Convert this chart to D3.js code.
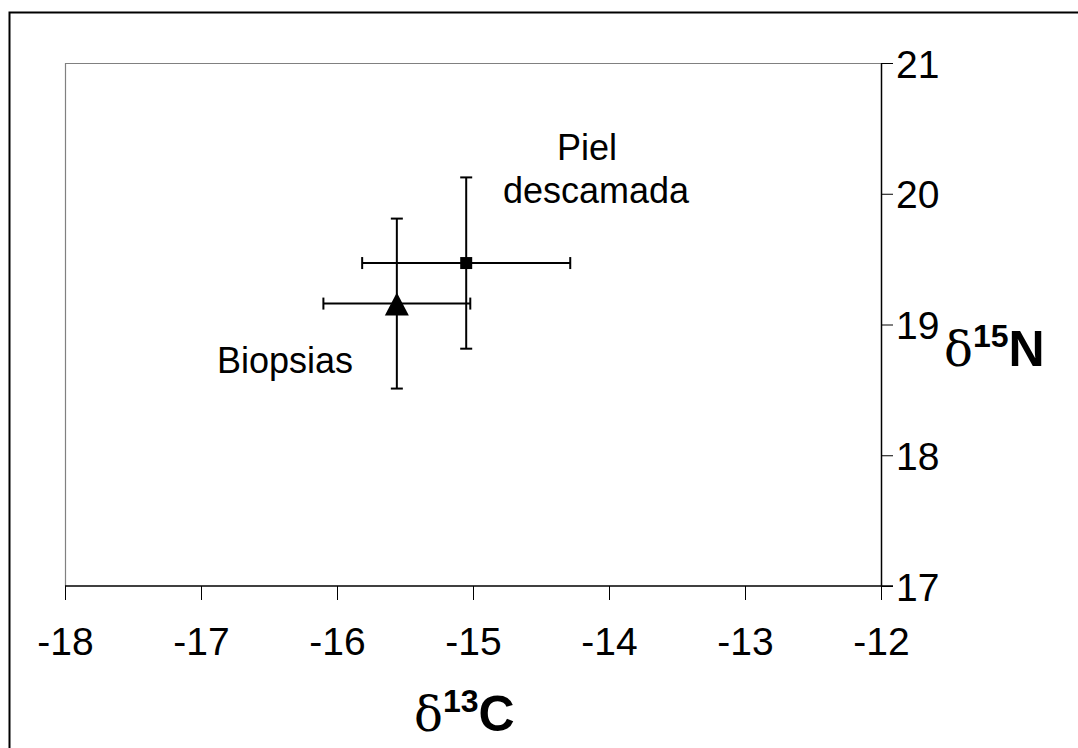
<!DOCTYPE html>
<html>
<head>
<meta charset="utf-8">
<script src="https://cdnjs.cloudflare.com/ajax/libs/d3/7.8.5/d3.min.js"></script>
<style>
  body { margin: 0; background: #fff; }
  text { font-family: "Liberation Sans", Arial, sans-serif; }
</style>
</head>
<body>
<div id="chart-area"></div>
<script>
// data
var samples = ["Piel descamada", "Biopsias"];
var meanC = [-15.05, -15.56];
var meanN = [19.47, 19.16];
var sdC = [0.765, 0.54];
var sdN = [0.655, 0.65];
var symbols = ["square", "triangle"];

var xTicks = [-18, -17, -16, -15, -14, -13, -12];
var yTicks = [17, 18, 19, 20, 21];

var width = 1078, height = 748;
var plotLeft = 65, plotRight = 881, plotTop = 63, plotBottom = 586;

var svg = d3.select("#chart-area")
    .append("svg")
    .attr("width", width)
    .attr("height", height);

// outer frame (right and bottom edges fall outside the picture)
svg.append("rect")
    .attr("x", 9.5).attr("y", 12.5)
    .attr("width", 1200).attr("height", 900)
    .attr("fill", "none")
    .attr("stroke", "#000")
    .attr("stroke-width", 2);

var x = d3.scaleLinear().domain([-18, -12]).range([plotLeft, plotRight]);
var y = d3.scaleLinear().domain([17, 21]).range([plotBottom, plotTop]);

// plot area border (gray, left & top)
svg.append("path")
    .attr("d", "M" + (plotLeft + 0.5) + "," + plotBottom + "V" + (plotTop + 0.5) + "H" + plotRight)
    .attr("fill", "none")
    .attr("stroke", "#808080")
    .attr("stroke-width", 1.2);

var fmt = function(d) { return String(d); };

var xAxis = svg.append("g")
    .attr("transform", "translate(0," + plotBottom + ")")
    .call(d3.axisBottom(x).tickValues(xTicks).tickSize(14).tickPadding(27)
        .tickSizeOuter(0).tickFormat(fmt));
xAxis.select(".domain").attr("d", "M" + plotLeft + ",0H" + (plotRight + 12)).attr("stroke-width", 1.5);
xAxis.selectAll(".tick line").attr("stroke-width", 1);
xAxis.selectAll("text")
    .attr("font-size", 39)
    .attr("fill", "#000")
    .attr("font-family", "Liberation Sans, Arial, sans-serif")
    .attr("dy", "0.71em");

var yAxis = svg.append("g")
    .attr("transform", "translate(" + plotRight + ",0)")
    .call(d3.axisRight(y).tickValues(yTicks).tickSize(12).tickPadding(3)
        .tickSizeOuter(0).tickFormat(fmt));
yAxis.select(".domain").attr("stroke-width", 1.5);
yAxis.selectAll(".tick line").attr("stroke-width", 1);
yAxis.selectAll("text")
    .attr("font-size", 39)
    .attr("fill", "#000")
    .attr("font-family", "Liberation Sans, Arial, sans-serif")
    .attr("dy", "0.36em");

// axis titles
var xt = svg.append("text")
    .attr("x", 414).attr("y", 731)
    .attr("font-size", 50);
xt.append("tspan").text("δ").attr("font-family", "DejaVu Serif, serif").attr("font-size", 48);
xt.append("tspan").text("13").attr("font-weight", "bold").attr("font-size", 32).attr("dy", -19);
xt.append("tspan").text("C").attr("font-weight", "bold").attr("dy", 19);

var yt = svg.append("text")
    .attr("x", 944).attr("y", 366)
    .attr("font-size", 50);
yt.append("tspan").text("δ").attr("font-family", "DejaVu Serif, serif").attr("font-size", 48);
yt.append("tspan").text("15").attr("font-weight", "bold").attr("font-size", 32).attr("dy", -19);
yt.append("tspan").text("N").attr("font-weight", "bold").attr("dy", 19);

// error bars
var cap = 6;
samples.forEach(function(s, i) {
    var g = svg.append("g").attr("stroke", "#000").attr("stroke-width", 2);
    var cx = x(meanC[i]), cy = y(meanN[i]);
    var x0 = x(meanC[i] - sdC[i]), x1 = x(meanC[i] + sdC[i]);
    var y0 = y(meanN[i] + sdN[i]), y1 = y(meanN[i] - sdN[i]);
    g.append("line").attr("x1", x0).attr("x2", x1).attr("y1", cy).attr("y2", cy);
    g.append("line").attr("x1", x0).attr("x2", x0).attr("y1", cy - cap).attr("y2", cy + cap);
    g.append("line").attr("x1", x1).attr("x2", x1).attr("y1", cy - cap).attr("y2", cy + cap);
    g.append("line").attr("x1", cx).attr("x2", cx).attr("y1", y0).attr("y2", y1);
    g.append("line").attr("x1", cx - cap).attr("x2", cx + cap).attr("y1", y0).attr("y2", y0);
    g.append("line").attr("x1", cx - cap).attr("x2", cx + cap).attr("y1", y1).attr("y2", y1);
});

// markers
svg.selectAll("path.marker")
    .data(samples)
    .enter()
    .append("path")
    .attr("class", "marker")
    .attr("transform", function(d, i) {
        return "translate(" + x(meanC[i]) + "," + y(meanN[i]) + ")";
    })
    .attr("d", function(d, i) {
        if (symbols[i] === "square") {
            return "M-6,-6H6V6H-6Z";
        } else {
            return "M0,-11L12,12H-12Z";
        }
    })
    .attr("fill", "#000");

// point labels
var lab = svg.append("g").attr("font-size", 36).attr("fill", "#000");
lab.append("text").attr("x", 587).attr("y", 160).attr("text-anchor", "middle").text("Piel");
lab.append("text").attr("x", 596).attr("y", 203).attr("text-anchor", "middle").text("descamada");
lab.append("text").attr("x", 285).attr("y", 373).attr("text-anchor", "middle").text("Biopsias");
</script>
</body>
</html>
